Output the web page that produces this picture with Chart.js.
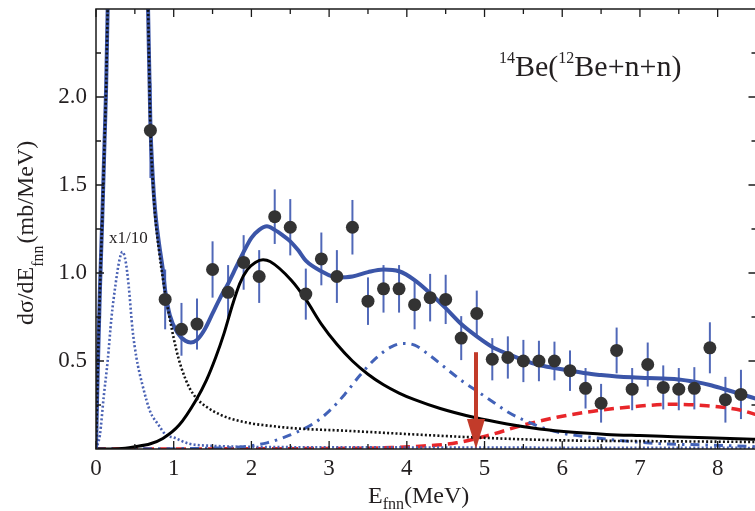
<!DOCTYPE html>
<html>
<head>
<meta charset="utf-8">
<script src="https://cdn.jsdelivr.net/npm/chart.js@4.4.1/dist/chart.umd.min.js"></script>
<style>
  html, body { margin: 0; padding: 0; background: #fff; overflow: hidden; }
  #wrap { width: 765px; height: 511px; }
</style>
</head>
<body>
<div id="wrap"><canvas id="fnnChart" width="765" height="511"></canvas></div>
<script>
// Measured points (E_fnn in MeV, dsigma/dE in mb/MeV) and their errors
const dataE = [0.70, 0.89, 1.10, 1.30, 1.50, 1.70, 1.90, 2.10, 2.30, 2.50, 2.70, 2.90, 3.10, 3.30, 3.50, 3.70, 3.90, 4.10, 4.30, 4.50,
               4.70, 4.90, 5.10, 5.30, 5.50, 5.70, 5.90, 6.10, 6.30, 6.50, 6.70, 6.90, 7.10, 7.30, 7.50, 7.70, 7.90, 8.10, 8.30];
const dataY = [1.81, 0.85, 0.68, 0.71, 1.02, 0.89, 1.06, 0.98, 1.32, 1.26, 0.88, 1.08, 0.98, 1.26, 0.84, 0.91, 0.91, 0.82, 0.86, 0.85,
               0.63, 0.77, 0.51, 0.52, 0.50, 0.50, 0.50, 0.445, 0.345, 0.26, 0.56, 0.34, 0.48, 0.35, 0.34, 0.345, 0.575, 0.28, 0.31];
const dataErr = [0.27, 0.17, 0.15, 0.145, 0.16, 0.155, 0.155, 0.15, 0.155, 0.16, 0.145, 0.15, 0.15, 0.155, 0.135, 0.135, 0.135, 0.14, 0.135, 0.14,
                 0.125, 0.13, 0.12, 0.12, 0.12, 0.115, 0.11, 0.115, 0.115, 0.11, 0.13, 0.12, 0.125, 0.125, 0.12, 0.12, 0.145, 0.13, 0.14];

// Total fit (thick blue)
const totalE = [0, 0.02, 0.05, 0.08, 0.11, 0.13, 0.15, 0.2, 0.4, 0.6, 0.67, 0.70, 0.73, 0.76, 0.81, 0.86, 0.89, 0.95, 1.05, 1.15,
                1.22, 1.3, 1.4, 1.5, 1.6, 1.7, 1.8, 1.9, 2.0, 2.1, 2.2, 2.3, 2.4, 2.5, 2.6, 2.7, 2.9, 3.1, 3.3, 3.5,
                3.7, 3.9, 4.1, 4.3, 4.5, 4.7, 4.9, 5.1, 5.3, 5.5, 5.7, 5.9, 6.1, 6.3, 6.5, 6.7, 6.9, 7.1, 7.3, 7.5,
                7.7, 7.9, 8.1, 8.3, 8.5];
const totalY = [0, 0.4, 0.9, 1.3, 1.75, 2.05, 2.5, 3.4, 5.0, 3.6, 2.5, 1.85, 1.55, 1.36, 1.17, 1.02, 0.9, 0.76, 0.66, 0.615,
                0.605, 0.62, 0.68, 0.77, 0.86, 0.94, 1.03, 1.12, 1.2, 1.245, 1.265, 1.245, 1.215, 1.18, 1.13, 1.07, 1.01, 0.975, 0.98, 1.005,
                1.02, 1.01, 0.96, 0.885, 0.80, 0.71, 0.64, 0.58, 0.54, 0.505, 0.477, 0.46, 0.445, 0.43, 0.42, 0.412, 0.407, 0.404, 0.40, 0.395,
                0.382, 0.364, 0.338, 0.312, 0.285];

// Resonance component (black solid)
const resE = [0, 0.3, 0.5, 0.7, 0.86, 1.07, 1.29, 1.42, 1.54, 1.65, 1.75, 1.85, 1.95, 2.05, 2.15, 2.24, 2.51, 2.7, 2.9, 3.1,
              3.3, 3.5, 3.7, 3.9, 4.1, 4.43, 4.86, 5.29, 5.71, 6.14, 6.57, 7.0, 7.43, 7.86, 8.5];
const resY = [0, 0.002, 0.013, 0.03, 0.06, 0.136, 0.28, 0.39, 0.52, 0.66, 0.81, 0.94, 1.02, 1.06, 1.075, 1.065, 0.96, 0.85, 0.71, 0.595,
              0.50, 0.425, 0.365, 0.318, 0.28, 0.23, 0.18, 0.142, 0.114, 0.095, 0.083, 0.076, 0.07, 0.064, 0.055];

// Low-lying component (black dotted)
const lowE = [0, 0.02, 0.05, 0.08, 0.11, 0.13, 0.15, 0.2, 0.4, 0.6, 0.67, 0.70, 0.73, 0.76, 0.81, 0.86, 0.92, 1.03, 1.1, 1.2,
              1.3, 1.42, 1.6, 1.72, 2.0, 2.15, 2.57, 3.2, 4.0, 4.86, 5.5, 6.14, 7.0, 8.5];
const lowY = [0, 0.4, 0.9, 1.3, 1.75, 2.05, 2.5, 3.4, 5.0, 3.6, 2.5, 1.83, 1.53, 1.33, 1.13, 0.97, 0.81, 0.57, 0.46, 0.35,
              0.285, 0.24, 0.195, 0.174, 0.145, 0.136, 0.117, 0.104, 0.085, 0.066, 0.055, 0.048, 0.045, 0.04];

// Same component scaled x1/10 (blue dotted)
const scaledE = [0, 0.05, 0.1, 0.15, 0.2, 0.25, 0.3, 0.34, 0.38, 0.42, 0.47, 0.52, 0.6, 0.7, 0.8, 0.9, 1.0, 1.2, 1.5, 2.0, 3.0, 5.0, 8.5];
const scaledY = [0, 0.08, 0.3, 0.5, 0.75, 0.93, 1.07, 1.12, 1.07, 0.93, 0.68, 0.52, 0.36, 0.21, 0.14, 0.08, 0.065, 0.03, 0.018, 0.012, 0.01, 0.008, 0.006];

// Second resonance (blue dash-dot)
const secondE = [0, 1.5, 1.9, 2.2, 2.5, 2.8, 3.0, 3.2, 3.4, 3.6, 3.8, 3.95, 4.1, 4.3, 4.5, 4.7, 4.9, 5.1, 5.3, 5.5, 5.9, 6.5, 7.2, 7.9, 8.5];
const secondY = [0, 0.005, 0.013, 0.035, 0.08, 0.145, 0.215, 0.31, 0.42, 0.515, 0.58, 0.60, 0.59, 0.53, 0.46, 0.39, 0.33, 0.27, 0.21, 0.165, 0.1, 0.06, 0.032, 0.022, 0.013];

// Background (red dashed)
const bgE = [0, 3.0, 3.8, 4.21, 4.64, 5.07, 5.5, 5.93, 6.4, 7.0, 7.43, 7.86, 8.1, 8.3, 8.5];
const bgY = [0, 0.003, 0.008, 0.017, 0.035, 0.08, 0.136, 0.18, 0.215, 0.244, 0.254, 0.246, 0.235, 0.22, 0.195];

// Threshold arrow
const arrowE = 4.89;
const arrowTop = 0.55;

const serif = "'Liberation Serif', 'Times New Roman', serif";
const textColor = '#231f20';

function pts(xs, ys) {
    return xs.map((x, i) => ({ x: x, y: ys[i] }));
}

function curve(xs, ys, color, width, dash, order) {
    return {
        data: pts(xs, ys),
        showLine: true,
        borderColor: color,
        borderWidth: width,
        borderDash: dash,
        pointRadius: 0,
        cubicInterpolationMode: 'monotone',
        fill: false,
        order: order
    };
}

const decor = {
    id: 'decor',
    beforeDatasetsDraw(chart) {
        const ctx = chart.ctx, xs = chart.scales.x, ys = chart.scales.y;
        ctx.save();
        ctx.strokeStyle = '#5068b8';
        ctx.lineWidth = 2;
        dataE.forEach((e, i) => {
            const px = xs.getPixelForValue(e);
            ctx.beginPath();
            ctx.moveTo(px, ys.getPixelForValue(dataY[i] - dataErr[i]));
            ctx.lineTo(px, ys.getPixelForValue(dataY[i] + dataErr[i]));
            ctx.stroke();
        });
        ctx.restore();
    },
    afterDatasetsDraw(chart) {
        const ctx = chart.ctx, xs = chart.scales.x, ys = chart.scales.y;
        const px = xs.getPixelForValue(arrowE);
        const top = ys.getPixelForValue(arrowTop);
        const tip = ys.getPixelForValue(0);
        ctx.save();
        ctx.strokeStyle = '#c23b2a';
        ctx.fillStyle = '#c23b2a';
        ctx.lineWidth = 4;
        ctx.beginPath();
        ctx.moveTo(px, top);
        ctx.lineTo(px, tip - 20);
        ctx.stroke();
        ctx.beginPath();
        ctx.moveTo(px - 9, tip - 30);
        ctx.lineTo(px + 9, tip - 30);
        ctx.lineTo(px, tip);
        ctx.closePath();
        ctx.fill();
        ctx.restore();
    },
    afterDraw(chart) {
        const ctx = chart.ctx, a = chart.chartArea, xs = chart.scales.x, ys = chart.scales.y;
        ctx.save();
        ctx.strokeStyle = '#1a1a1a';
        ctx.lineWidth = 1.5;
        ctx.strokeRect(a.left, a.top, a.right - a.left, a.bottom - a.top);
        ctx.lineWidth = 1.3;
        for (let v = 0; v <= 8.5; v += 0.5) {
            const px = xs.getPixelForValue(v);
            const len = Number.isInteger(v) ? 8 : 5;
            ctx.beginPath();
            ctx.moveTo(px, a.bottom); ctx.lineTo(px, a.bottom - len);
            ctx.moveTo(px, a.top); ctx.lineTo(px, a.top + len);
            ctx.stroke();
        }
        for (let v = 0.25; v < 2.5; v += 0.25) {
            const py = ys.getPixelForValue(v);
            const len = (v * 2) % 1 === 0 ? 8 : 5;
            ctx.beginPath();
            ctx.moveTo(a.left, py); ctx.lineTo(a.left + len, py);
            ctx.moveTo(a.right, py); ctx.lineTo(a.right - len, py);
            ctx.stroke();
        }

        ctx.fillStyle = textColor;
        ctx.textBaseline = 'alphabetic';
        ctx.textAlign = 'left';

        // reaction label
        let x = 499;
        const parts = [['14', 16, 63], ['Be(', 30, 76], ['12', 16, 63], ['Be+n+n)', 30, 76]];
        parts.forEach(p => {
            ctx.font = p[1] + 'px ' + serif;
            ctx.fillText(p[0], x, p[2]);
            x += ctx.measureText(p[0]).width;
        });

        // scale note
        ctx.font = '17px ' + serif;
        ctx.fillText('x1/10', 109, 243);

        // x title
        x = 368;
        ctx.font = '24px ' + serif;
        ctx.fillText('E', x, 503);
        x += ctx.measureText('E').width;
        ctx.font = '16px ' + serif;
        ctx.fillText('fnn', x, 509);
        x += ctx.measureText('fnn').width;
        ctx.font = '24px ' + serif;
        ctx.fillText('(MeV)', x, 503);

        // y title
        ctx.translate(33, 325);
        ctx.rotate(-Math.PI / 2);
        x = 0;
        ctx.font = '24px ' + serif;
        ctx.fillText('d\u03c3/dE', x, 0);
        x += ctx.measureText('d\u03c3/dE').width;
        ctx.font = '16px ' + serif;
        ctx.fillText('fnn', x, 10);
        x += ctx.measureText('fnn').width + 2;
        ctx.font = '24px ' + serif;
        ctx.fillText('(mb/MeV)', x, 0);
        ctx.restore();
    }
};

const ctx = document.getElementById('fnnChart').getContext('2d');
const fnnChart = new Chart(ctx, {
    type: 'scatter',
    data: {
        datasets: [
            {
                data: pts(dataE, dataY),
                backgroundColor: '#333333',
                borderWidth: 0,
                pointRadius: 6.5,
                pointHoverRadius: 6.5,
                order: 0
            },
            curve(lowE, lowY, '#111111', 2.6, [2, 2.2], 1),
            curve(totalE, totalY, '#3b55a8', 4, [], 2),
            curve(resE, resY, '#000000', 3, [], 3),
            curve(scaledE, scaledY, '#4a62b4', 2.6, [2, 2.2], 3),
            curve(secondE, secondY, '#4262b8', 3, [9, 6, 2.5, 6], 3),
            curve(bgE, bgY, '#e8262a', 3.5, [10, 6], 3)
        ]
    },
    options: {
        responsive: false,
        animation: false,
        devicePixelRatio: 1,
        layout: { padding: { top: 9, right: 8.5, left: 0, bottom: 0 } },
        plugins: {
            legend: { display: false },
            tooltip: { enabled: false }
        },
        scales: {
            x: {
                type: 'linear',
                min: 0,
                max: 8.5,
                afterFit: s => { s.height = 62; s.paddingLeft = 0; s.paddingRight = 0; },
                grid: { display: false, drawTicks: false },
                border: { display: false },
                ticks: {
                    stepSize: 0.5,
                    autoSkip: false,
                    maxRotation: 0,
                    padding: 6,
                    color: textColor,
                    font: { family: serif, size: 23 },
                    callback: v => Number.isInteger(v) ? String(v) : ''
                }
            },
            y: {
                type: 'linear',
                min: 0,
                max: 2.5,
                afterFit: s => { s.width = 96; s.paddingTop = 0; s.paddingBottom = 0; },
                grid: { display: false, drawTicks: false },
                border: { display: false },
                ticks: {
                    stepSize: 0.25,
                    autoSkip: false,
                    padding: 9,
                    color: textColor,
                    font: { family: serif, size: 23 },
                    callback: v => (v > 0 && v < 2.5 && (v * 2) % 1 === 0) ? v.toFixed(1) : ''
                }
            }
        }
    },
    plugins: [decor]
});
</script>
</body>
</html>
